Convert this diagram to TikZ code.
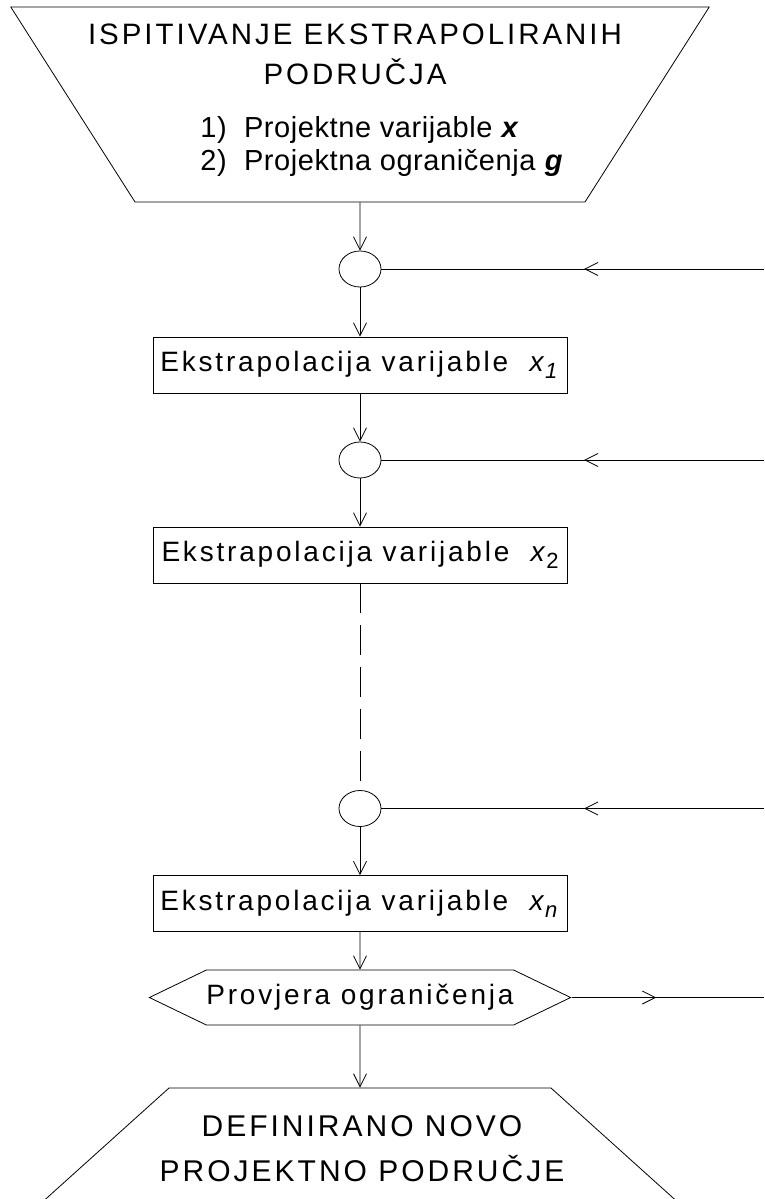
\documentclass[tikz,border=0pt]{standalone}
\usepackage{fontspec}
\setmainfont{Liberation Sans}[LetterSpace=10]
\usetikzlibrary{arrows.meta, positioning, shapes.geometric, shapes.symbols, decorations.markings}

\newcommand{\xsub}[1]{\textit{x}\kern-2pt\raisebox{-7pt}{\fontsize{22}{22}\selectfont #1}}

\begin{document}
\begin{tikzpicture}[x=1pt, y=-1pt, line width=0.8pt,
  >={Straight Barb[length=13pt, width=13pt]},
  font=\fontsize{28}{34}\selectfont,
  topbox/.style={trapezium, draw, shape border rotate=180,
    trapezium left angle=57.5, trapezium right angle=57.5,
    text width=450pt, text height=195pt, text depth=0pt, inner sep=0pt},
  endbox/.style={trapezium, draw,
    trapezium left angle=42, trapezium right angle=42,
    text width=382pt, text height=150pt, text depth=0pt, inner sep=0pt},
  process/.style={rectangle, draw, minimum width=414pt, minimum height=56pt, inner sep=0pt},
  junction/.style={ellipse, draw, minimum width=42pt, minimum height=36pt, inner sep=0pt},
  check/.style={signal, signal to=west and east, signal pointer angle=51.5, draw,
    minimum width=414pt, minimum height=55pt, inner sep=0pt},
  midarrow/.style={decoration={markings, mark=at position #1 with {\arrow{>}}},
    postaction={decorate}}]
  \path[use as bounding box, clip] (0,0) rectangle (764,1199);

  \node[topbox] (start) at (360,104.5) {};
  \node[font=\fontsize{29.5}{40}\selectfont, align=center, anchor=north, inner sep=0pt]
    (title) at (355,24) {ISPITIVANJE EKSTRAPOLIRANIH\\PODRUČJA};
  \node[font=\fontsize{29}{33}\selectfont\addfontfeatures{LetterSpace=2},
    align=left, anchor=north west, inner sep=0pt] (vars) at (200,116)
    {1)\ \ Projektne varijable \textbf{\textit{x}}\\2)\ \ Projektna ograničenja \textbf{\textit{g}}};

  \node[junction, below of=start, node distance=164.5pt] (j1) {};
  \node[process, below of=j1, node distance=96pt] (x1) {Ekstrapolacija varijable\ \ \xsub{\textit{1}}};
  \node[junction, below of=x1, node distance=95pt] (j2) {};
  \node[process, below of=j2, node distance=95pt] (x2) {Ekstrapolacija varijable\ \ \xsub{2}};
  \node[junction, below of=x2, node distance=253.5pt] (j3) {};
  \node[process, below of=j3, node distance=95pt] (xn) {Ekstrapolacija varijable\ \ \xsub{\textit{n}}};
  \node[check, below of=xn, node distance=94pt] (test) {Provjera ograničenja};
  \node[endbox, below of=test, node distance=165.5pt] (stop) {};
  \node[font=\fontsize{30}{45}\selectfont, align=center, anchor=north, inner sep=0pt]
    (result) at (362,1115) {DEFINIRANO NOVO\\PROJEKTNO PODRUČJE};

  % right edge for the return lines
  \coordinate (edge) at (764,0);
  \coordinate (in1) at (j1 -| edge);
  \coordinate (in2) at (j2 -| edge);
  \coordinate (in3) at (j3 -| edge);
  \coordinate (out) at (test.east -| edge);

  \draw[->] (start) -- (j1);
  \draw[->] (j1) -- (x1);
  \draw[->] (x1) -- (j2);
  \draw[->] (j2) -- (x2);
  \draw[dash pattern=on 30pt off 12pt] (x2) -- (j3);
  \draw[->] (j3) -- (xn);
  \draw[->] (xn) -- (test);
  \draw[->] (test) -- (stop);

  \draw[midarrow=0.47] (in1) -- (j1);
  \draw[midarrow=0.47] (in2) -- (j2);
  \draw[midarrow=0.47] (in3) -- (j3);
  \draw[midarrow=0.44] (test.east) -- (out);
\end{tikzpicture}
\end{document}
